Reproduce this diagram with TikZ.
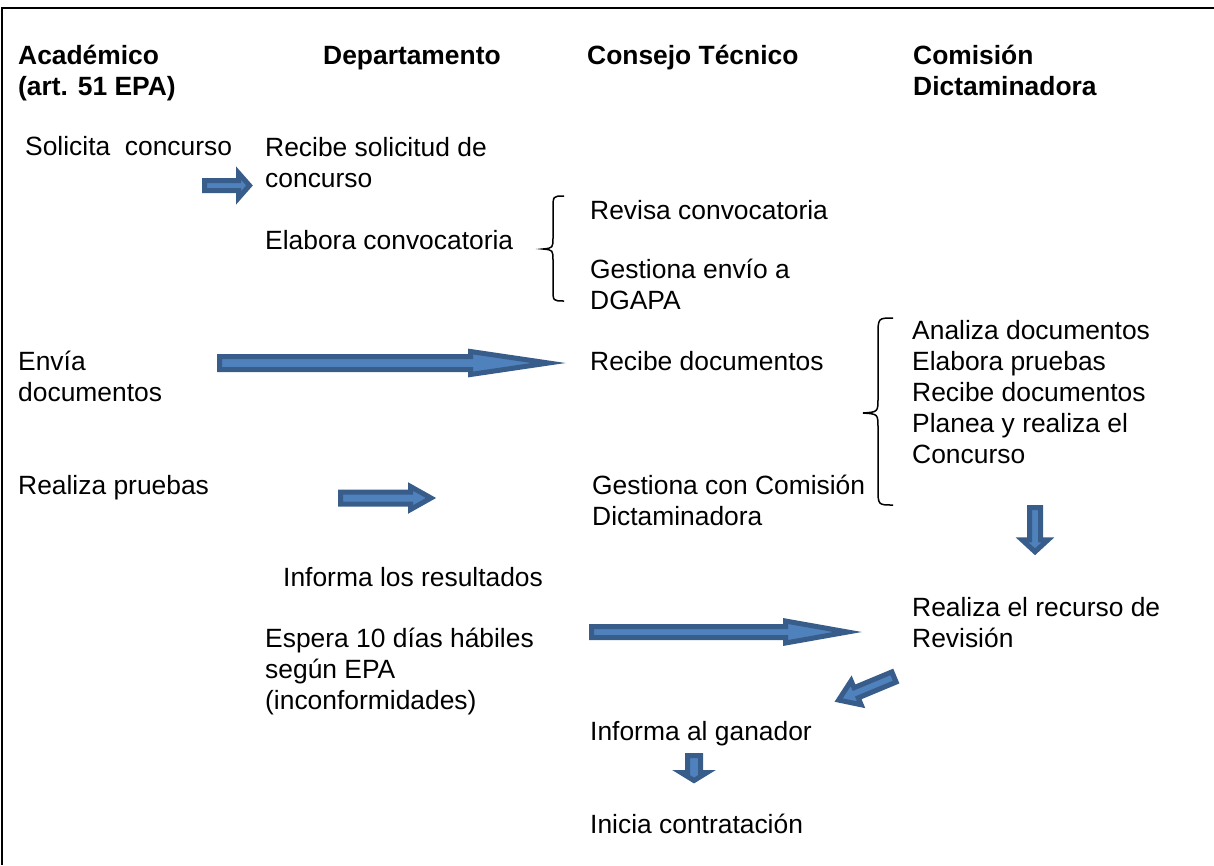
\documentclass[tikz,border=0pt]{standalone}
\usepackage{fontspec}
\setmainfont{Liberation Sans}
\definecolor{arrowdark}{RGB}{56,93,138}
\definecolor{arrowfill}{RGB}{79,129,189}
\newcommand\ml[1]{\begin{tabular}[t]{@{}l@{}}#1\end{tabular}}
\tikzset{
  txt/.style={anchor=base west, inner sep=0pt, font=\fontsize{26.4}{31}\selectfont},
  hdr/.style={txt, font=\fontsize{26.4}{31}\selectfont\bfseries},
  barrowst/.style={draw=arrowdark, fill=arrowfill, line width=5pt, line join=miter},
  bracest/.style={draw=black, line width=1.5pt},
  pics/barrow/.style n args={4}{code={
    \draw[barrowst] (0,-#2) -- ({#1-#4},-#2) -- ({#1-#4},-#3) -- (#1,0) -- ({#1-#4},#3) -- ({#1-#4},#2) -- (0,#2) -- cycle;}}
}
\begin{document}
\begin{tikzpicture}[x=1pt,y=-1pt]
\useasboundingbox (0,0) rectangle (1214,865);
% frame
\draw[line width=2.6pt] (1,8) -- (1214,8);
\draw[line width=1.6pt] (2,8) -- (2,865);
% headers
\node[hdr] (h1) at (18,64) {\ml{Académico\\(art. 51 EPA)}};
\node[hdr] (h2) at (323,64) {Departamento};
\node[hdr] (h3) at (587,64) {Consejo Técnico};
\node[hdr] (h4) at (913,64) {\ml{Comisión\\Dictaminadora}};
% column 1
\node[txt] (a1) at (25,155) {Solicita\ \ concurso};
\node[txt] (a2) at (18,370) {\ml{Envía\\documentos}};
\node[txt] (a3) at (18,494) {Realiza pruebas};
% column 2
\node[txt] (d1) at (265,156) {\ml{Recibe solicitud de\\concurso}};
\node[txt] (d2) at (265,249) {Elabora convocatoria};
\node[txt] (d3) at (283,586) {Informa los resultados};
\node[txt] (d4) at (265,647) {\ml{Espera 10 días hábiles\\según EPA\\(inconformidades)}};
% column 3
\node[txt] (c1) at (590,219) {Revisa convocatoria};
\node[txt] (c2) at (590,278) {\ml{Gestiona envío a\\DGAPA}};
\node[txt] (c3) at (590,370) {Recibe documentos};
\node[txt] (c4) at (592,494) {\ml{Gestiona con Comisión\\Dictaminadora}};
\node[txt] (c5) at (590,740) {Informa al ganador};
\node[txt] (c6) at (590,833) {Inicia contratación};
% column 4
\node[txt] (e1) at (912,339) {\ml{Analiza documentos\\Elabora pruebas\\Recibe documentos\\Planea y realiza el\\Concurso}};
\node[txt] (e2) at (912,616) {\ml{Realiza el recurso de\\Revisión}};
% braces
\draw[bracest] (564,196) .. controls (553,196) .. (553,209) -- (553,237)
  .. controls (553,248) .. (543,249) .. controls (553,250) .. (553,261)
  -- (553,289) .. controls (553,301) .. (564,301);
\draw[bracest] (893,318) .. controls (878,318) .. (878,336) -- (878,398)
  .. controls (878,412) .. (863,413) .. controls (878,414) .. (878,428)
  -- (878,488) .. controls (878,505) .. (893,505);
% block arrows
\pic at (204.5,185.5) {barrow={45}{5}{12.5}{11}};
\pic at (219.5,363) {barrow={329}{6.5}{11.5}{78}};
\pic at (340.5,498) {barrow={90.5}{6}{11.5}{20.5}};
\pic at (591.5,632) {barrow={256}{5.5}{11}{62}};
\pic[rotate=-90] at (1035,507.5) {barrow={44.3}{5.5}{13}{12}};
\pic[rotate=-90] at (694,755.5) {barrow={25}{6.5}{13}{8}};
\pic[rotate=-157.4] at (894,677) {barrow={60}{5.5}{13}{19}};
\end{tikzpicture}
\end{document}
